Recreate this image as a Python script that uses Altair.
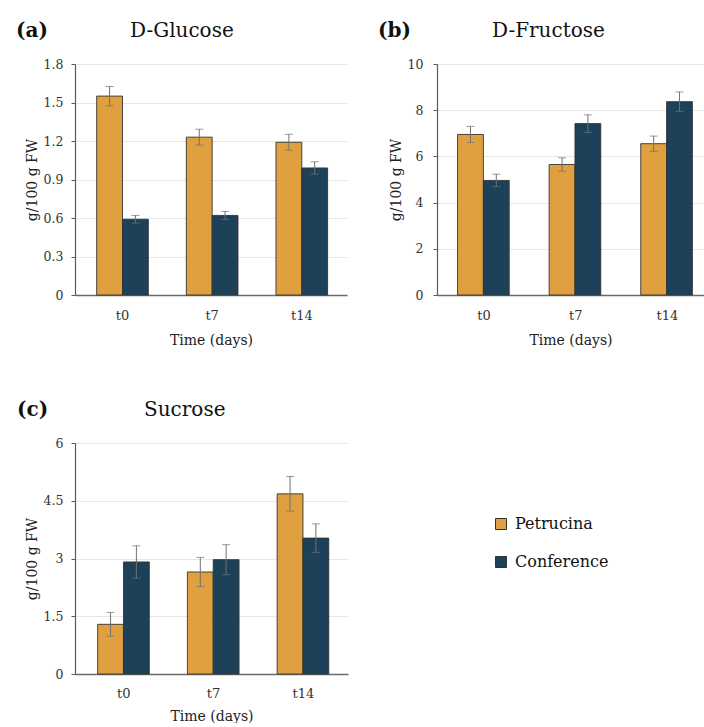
import altair as alt
import pandas as pd

times = ["t0", "t7", "t14"]
cultivars = ["Petrucina", "Conference"]
colors = ["#E0A040", "#1D4159"]

glucose_pet = [1.55, 1.23, 1.19]
glucose_pet_err = [0.075, 0.062, 0.062]
glucose_con = [0.59, 0.62, 0.99]
glucose_con_err = [0.03, 0.031, 0.048]

fructose_pet = [6.95, 5.65, 6.55]
fructose_pet_err = [0.35, 0.29, 0.33]
fructose_con = [4.96, 7.42, 8.37]
fructose_con_err = [0.27, 0.38, 0.42]

sucrose_pet = [1.29, 2.65, 4.68]
sucrose_pet_err = [0.31, 0.38, 0.45]
sucrose_con = [2.91, 2.97, 3.53]
sucrose_con_err = [0.42, 0.39, 0.37]

glucose_ticks = [0, 0.3, 0.6, 0.9, 1.2, 1.5, 1.8]
fructose_ticks = [0, 2, 4, 6, 8, 10]
sucrose_ticks = [0, 1.5, 3, 4.5, 6]

FONT = "DejaVu Serif"


def panel(pet, pet_err, con, con_err, letter, name, ticks, width,
          p_inner, p_outer, align, label_pad, letter_dx, name_dx, legend,
          left_guard=None, x_label_pad=14, x_title_pad=11):
    df = pd.DataFrame({
        "time": times * 2,
        "cultivar": [cultivars[0]] * 3 + [cultivars[1]] * 3,
        "value": pet + con,
        "err": pet_err + con_err,
    })
    df["lo"] = df["value"] - df["err"]
    df["hi"] = df["value"] + df["err"]
    base = alt.Chart(df)
    x = alt.X("time:N", sort=times,
              scale=alt.Scale(paddingInner=p_inner, paddingOuter=p_outer, align=align),
              axis=alt.Axis(title="Time (days)", labelAngle=0, ticks=False,
                            labelFontSize=13, labelPadding=x_label_pad, titleFontSize=14,
                            titlePadding=x_title_pad, domainColor="#6a6a6a", domainWidth=1.3,
                            grid=False))
    xoff = alt.XOffset("cultivar:N", sort=cultivars,
                       scale=alt.Scale(paddingInner=0, paddingOuter=0))
    yscale = alt.Scale(domain=[ticks[0], ticks[-1]], nice=False, zero=True)
    yaxis = alt.Axis(title="g/100 g FW", values=ticks, tickCount=len(ticks),
                     grid=True, gridColor="#e6e6e6",
                     gridWidth=1.2, domain=True, domainColor="#5a5a5a", domainWidth=1.2,
                     ticks=True, tickSize=4, tickColor="#5a5a5a", labelOverlap=False,
                     labelFontSize=12.5, titleFontSize=14, labelPadding=label_pad,
                     titlePadding=4, labelExpr="format(datum.value, '~g')")
    bars = base.mark_bar(stroke="#333333", strokeWidth=0.9).encode(
        x=x, xOffset=xoff,
        y=alt.Y("value:Q", scale=yscale, axis=yaxis),
        color=alt.Color("cultivar:N", sort=cultivars,
                        scale=alt.Scale(domain=cultivars, range=colors), legend=legend),
    )
    rules = base.mark_rule(color="#707070", strokeWidth=1).encode(
        x=x, xOffset=xoff, y=alt.Y("lo:Q", scale=yscale, axis=yaxis), y2="hi:Q")
    cap_lo = base.mark_tick(color="#707070", thickness=1, size=8).encode(
        x=x, xOffset=xoff, y=alt.Y("lo:Q", scale=yscale, axis=yaxis))
    cap_hi = base.mark_tick(color="#707070", thickness=1, size=8).encode(
        x=x, xOffset=xoff, y=alt.Y("hi:Q", scale=yscale, axis=yaxis))
    lab = alt.Chart(pd.DataFrame({"t": [letter]})).mark_text(
        font=FONT, fontSize=20, fontWeight="bold", align="left", baseline="alphabetic",
        color="#111111").encode(x=alt.value(letter_dx), y=alt.value(-27), text="t:N")
    ttl = alt.Chart(pd.DataFrame({"t": [name]})).mark_text(
        font=FONT, fontSize=20, align="left", baseline="alphabetic",
        color="#111111").encode(x=alt.value(name_dx), y=alt.value(-27), text="t:N")
    layers = [bars, rules, cap_lo, cap_hi, lab, ttl]
    if left_guard is not None:
        guard = alt.Chart(pd.DataFrame({"t": ["."]})).mark_text(
            font=FONT, fontSize=10, align="left", opacity=0).encode(
            x=alt.value(left_guard), y=alt.value(-27), text="t:N")
        layers.append(guard)
    return alt.layer(*layers).properties(width=width, height=231)


legend_c = alt.Legend(title=None, orient="none", legendX=418, legendY=73,
                      symbolType="square", symbolSize=121, symbolStrokeColor="#333333",
                      symbolStrokeWidth=1, labelFont=FONT, labelFontSize=16,
                      labelColor="#111111", labelOffset=6, rowPadding=22)

a = panel(glucose_pet, glucose_pet_err, glucose_con, glucose_con_err, "(a)", "D-Glucose",
          glucose_ticks, 272, 0.424, 0.229, 0.528, 8, -59, 55, None, left_guard=-66)
b = panel(fructose_pet, fructose_pet_err, fructose_con, fructose_con_err, "(b)", "D-Fructose",
          fructose_ticks, 267, 0.42, 0.1675, 0.67, 10, -59, 55, None)
c = panel(sucrose_pet, sucrose_pet_err, sucrose_con, sucrose_con_err, "(c)", "Sucrose",
          sucrose_ticks, 273, 0.417, 0.2295, 0.55, 8, -58, 69, legend_c, left_guard=-66,
          x_label_pad=13, x_title_pad=9)

top = alt.hconcat(a, b, spacing=31).resolve_scale(x="independent", y="independent")
chart = alt.concat(top, c, columns=1, spacing=53, align="none").resolve_scale(
    x="independent", y="independent", color="independent"
).properties(
    padding={"left": 9, "top": 21, "right": 0, "bottom": 0},
    background="white",
).configure_view(stroke=None).configure_axis(
    labelFont=FONT, titleFont=FONT, labelColor="#333333", titleColor="#222222",
    titleFontWeight="normal"
)

chart.save("out.html", embed_options={"renderer": "svg", "actions": False})
